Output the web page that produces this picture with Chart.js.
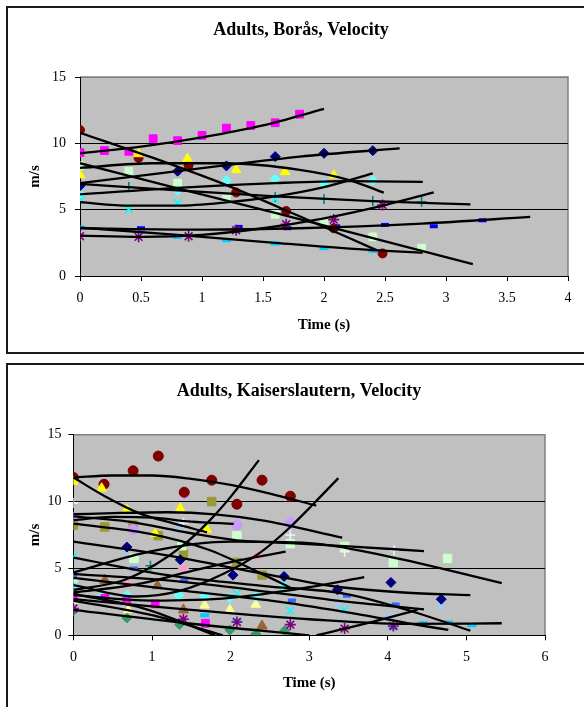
<!DOCTYPE html>
<html>
<head>
<meta charset="utf-8">
<script src="https://cdn.jsdelivr.net/npm/chart.js@4.4.1/dist/chart.umd.min.js"></script>
<style>
  body { margin: 0; background: #fff; overflow: hidden; width: 584px; height: 707px; position: relative; }
  .frame { position: absolute; box-sizing: border-box; border: 2px solid #1a1a1a; }
  canvas { position: absolute; left: 0; }
</style>
</head>
<body>
<div class="frame" style="left:6px; top:6px; width:640px; height:348px;"></div>
<div class="frame" style="left:6px; top:363px; width:640px; height:400px;"></div>
<canvas id="borasChart" width="602" height="353" style="top:0"></canvas>
<canvas id="kaisChart" width="598" height="343" style="top:364px"></canvas>
<script>
// ---- Borås: measured points [time s, velocity m/s] ----
const borasNavy = [[0, 6.8], [0.8, 7.9], [1.2, 8.3], [1.6, 9.0], [2.0, 9.25], [2.4, 9.45]];
const borasMagenta = [[0, 9.3], [0.2, 9.45], [0.4, 9.4], [0.6, 10.35], [0.8, 10.2], [1.0, 10.6], [1.2, 11.15], [1.4, 11.35], [1.6, 11.55], [1.8, 12.2]];
const borasYellow = [[0, 7.6], [0.48, 9.2], [0.88, 8.85], [1.28, 8.0], [1.68, 7.85], [2.08, 7.6]];
const borasCyanX = [[0, 5.7], [0.4, 5.05], [0.8, 5.5], [1.6, 5.8]];
const borasPurple = [[0, 3.0], [0.48, 2.95], [0.89, 3.0], [1.28, 3.45], [1.69, 3.9], [2.08, 4.25], [2.48, 5.35]];
const borasDarkRed = [[0, 11.0], [0.48, 8.9], [0.89, 8.35], [1.28, 6.3], [1.69, 4.9], [2.08, 3.6], [2.48, 1.7]];
const borasTeal = [[0.4, 6.7], [1.6, 5.95], [2.0, 5.8], [2.4, 5.65], [2.8, 5.6]];
const borasBlue = [[0.5, 3.6], [1.3, 3.7], [1.7, 3.6], [2.1, 3.75], [2.5, 3.85], [2.9, 3.75], [3.3, 4.2]];
const borasSky = [[0, 3.65], [0.8, 2.95], [1.2, 2.7], [1.6, 2.45], [2.0, 2.1], [2.4, 1.9]];
const borasTurquoise = [[0, 6.15], [0.8, 6.45], [1.2, 7.2], [1.6, 7.3], [2.0, 6.95], [2.4, 7.2]];
const borasLightGreen = [[0, 8.3], [0.4, 7.9], [0.8, 7.0], [1.2, 5.8], [1.6, 4.65], [2.0, 4.1], [2.4, 2.95], [2.8, 2.1]];

// ---- Borås: trend lines ----
const borasFitMagenta = [[0, 9.25], [0.5, 9.75], [1.0, 10.45], [1.5, 11.35], [2.0, 12.6]];
const borasFitDarkRed = [[0, 10.8], [0.6, 8.9], [1.2, 6.85], [1.8, 4.5], [2.43, 1.95]];
const borasFitNavy = [[0, 7.0], [0.8, 7.9], [1.2, 8.35], [1.8, 9.0], [2.62, 9.62]];
const borasFitYellow = [[0, 8.15], [0.6, 8.5], [1.2, 8.5], [1.8, 8.0], [2.2, 7.25], [2.49, 6.28]];
const borasFitLightGreen = [[0, 8.5], [0.8, 6.6], [1.6, 4.75], [2.4, 2.85], [3.22, 0.9]];
const borasFitTeal = [[0, 6.95], [0.8, 6.45], [1.6, 6.0], [2.4, 5.65], [3.2, 5.4]];
const borasFitTurquoise = [[0, 6.15], [0.8, 6.65], [1.6, 7.0], [2.2, 7.15], [2.81, 7.1]];
const borasFitCyanX = [[0, 5.57], [0.4, 5.3], [0.8, 5.3], [1.2, 5.55], [1.6, 6.0], [2.0, 6.7], [2.4, 7.74]];
const borasFitSky = [[0, 3.65], [0.8, 3.1], [1.6, 2.5], [2.4, 1.95], [2.81, 1.76]];
const borasFitBlue = [[0, 3.6], [1.0, 3.5], [1.8, 3.6], [2.8, 3.95], [3.69, 4.45]];
const borasFitPurple = [[0, 3.05], [0.5, 2.95], [1.0, 3.1], [1.5, 3.6], [2.0, 4.35], [2.5, 5.35], [2.9, 6.3]];

// ---- Kaiserslautern: measured points ----
const kaisDarkRed = [[0, 11.8], [0.39, 11.3], [0.76, 12.3], [1.08, 13.4], [1.41, 10.7], [1.76, 11.6], [2.08, 9.8], [2.4, 11.6], [2.76, 10.4]];
const kaisYellow = [[0, 11.5], [0.36, 11.0], [0.68, 9.4], [1.04, 7.6], [1.36, 9.5], [1.7, 7.9]];
const kaisOlive = [[0, 8.25], [0.4, 8.1], [0.76, 8.25], [1.08, 7.45], [1.4, 6.1], [1.76, 10.0], [2.08, 5.45], [2.4, 4.5]];
const kaisLavender = [[0, 8.8], [0.76, 7.9], [1.41, 10.6], [2.08, 8.25], [2.76, 8.4]];
const kaisWhitePlus = [[0, 9.9], [1.4, 8.4], [2.76, 7.5], [3.45, 6.25], [4.08, 6.35]];
const kaisLightGreen = [[0, 4.3], [0.77, 5.75], [1.38, 6.7], [2.08, 7.45], [2.76, 6.85], [3.45, 6.65], [4.07, 5.45], [4.76, 5.75]];
const kaisNavy = [[0.68, 6.6], [1.36, 5.65], [2.03, 4.5], [2.68, 4.4], [3.36, 3.4], [4.04, 3.95], [4.68, 2.7]];
const kaisRoyal = [[0, 4.5], [0.77, 5.0], [1.41, 4.1], [2.78, 2.6], [3.48, 2.95], [4.1, 2.3]];
const kaisCyanX = [[0, 5.9], [2.08, 3.1], [2.76, 1.85], [3.45, 1.9]];
const kaisPaleX = [[0.67, 6.25], [1.33, 8.0], [3.36, 2.2], [4.0, 1.35], [4.68, 2.2]];
const kaisMagenta = [[0, 2.8], [0.4, 2.75], [0.68, 2.6], [1.04, 2.35], [1.68, 0.9]];
const kaisBrown = [[0, 3.3], [0.4, 4.1], [1.07, 3.7], [1.4, 1.9], [2.4, 0.7]];
const kaisTurquoise = [[0, 3.7], [0.35, 2.8], [0.68, 3.0], [1.34, 3.0], [1.67, 2.9], [1.99, 2.8], [2.32, 2.9], [2.67, 3.7]];
const kaisLightYellow = [[0, 2.6], [0.7, 1.9], [1.67, 2.25], [1.99, 1.9], [2.32, 2.3]];
const kaisSky = [[1.67, 1.5], [2.08, 1.1], [4.07, 0.55], [4.45, 0.9], [4.77, 0.95], [5.07, 0.75]];
const kaisPurple = [[0, 2.0], [1.4, 1.2], [2.08, 1.0], [2.76, 0.8], [3.45, 0.5], [4.07, 0.7]];
const kaisRose = [[0, 3.0], [0.68, 3.9], [1.4, 5.0], [2.35, 5.9]];
const kaisGreen = [[0, 1.85], [0.68, 1.3], [1.35, 0.8], [1.99, 0.4], [2.32, 0.1], [2.69, 0.35]];
const kaisTeal = [[0.98, 5.2]];

// ---- Kaiserslautern: trend lines ----
const kaisFitDarkRed = [[0, 11.8], [0.5, 11.95], [1.0, 11.95], [1.5, 11.7], [2.0, 11.25], [2.5, 10.6], [3.09, 9.7]];
const kaisFitYellow = [[0, 11.8], [0.4, 10.4], [0.85, 9.1], [1.25, 8.4], [1.7, 7.7]];
const kaisFitWhite = [[0, 8.9], [0.7, 8.5], [1.48, 7.65], [2.08, 7.1], [2.76, 6.9], [3.5, 6.65], [4.46, 6.3]];
const kaisFitLavender = [[0, 9.05], [0.6, 9.15], [1.2, 9.2], [1.8, 9.05], [2.4, 8.6], [3.42, 7.3]];
const kaisFitOlive = [[0, 8.6], [0.5, 8.85], [1.0, 8.8], [1.5, 8.5], [2.04, 8.33]];
const kaisFitMixed = [[0, 8.35], [0.96, 7.6], [1.72, 6.4], [2.38, 4.65], [2.76, 3.56]];
const kaisFitLightGreen = [[0, 4.7], [1.0, 6.3], [2.0, 7.0], [3.0, 6.9], [4.0, 5.9], [5.45, 3.9]];
const kaisFitNavy = [[0, 7.0], [1.06, 6.1], [2.38, 4.65], [3.33, 3.65], [4.2, 3.2], [5.05, 3.0]];
const kaisFitCyanX = [[0, 5.8], [1.2, 4.5], [2.4, 3.7], [3.46, 3.1], [4.3, 1.8], [5.05, 0.35]];
const kaisFitRoyal = [[0, 4.6], [1.2, 4.1], [2.63, 3.14], [3.5, 2.5], [4.46, 1.94]];
const kaisFitPale = [[0, 4.3], [1.3, 3.4], [2.63, 2.5], [3.6, 1.6], [4.26, 0.9], [4.77, 0.4]];
const kaisFitSteepA = [[0, 3.4], [0.63, 4.1], [1.06, 5.35], [1.39, 6.7], [1.72, 8.5], [2.0, 10.35], [2.36, 13.1]];
const kaisFitSteepB = [[0, 3.75], [0.8, 2.9], [1.34, 3.3], [1.91, 4.6], [2.38, 6.2], [2.76, 8.1], [3.05, 9.8], [3.37, 11.75]];
const kaisFitRose = [[0, 3.2], [0.8, 3.8], [1.5, 4.8], [2.1, 5.6], [2.7, 6.25]];
const kaisFitTurquoise = [[0, 3.0], [1.0, 2.6], [2.0, 2.8], [3.0, 3.6], [3.7, 4.35]];
const kaisFitSky = [[0, 2.7], [1.5, 1.9], [3.0, 1.2], [4.2, 0.85], [5.45, 0.9]];
const kaisFitRising = [[3.09, 0], [3.7, 0.85], [4.38, 1.9]];
const kaisFitMagenta = [[0, 3.1], [0.9, 2.0], [1.8, 0]];
const kaisFitBrown = [[0, 2.6], [1.0, 1.5], [1.9, 0]];
const kaisFitGreen = [[0, 1.9], [1.44, 0.9], [3.0, 0]];

const serif = '"Liberation Serif", "Times New Roman", serif';

// Scatter markers, drawn under the trend lines
function markers(points, color, style, radius) {
    const stroked = ['cross', 'crossRot', 'star'].includes(style);
    return {
        data: points.map(([x, y]) => ({ x, y })),
        showLine: false,
        pointStyle: style,
        pointRadius: radius,
        pointBackgroundColor: color,
        pointBorderColor: color,
        pointBorderWidth: style === 'line' ? 4 : (stroked ? 1.6 : 1),
        order: 2,
    };
}

// Black trend curve
function trend(points) {
    return {
        data: points.map(([x, y]) => ({ x, y })),
        showLine: true,
        borderColor: '#000',
        borderWidth: 2.3,
        pointRadius: 0,
        cubicInterpolationMode: 'monotone',
        fill: false,
        order: 1,
    };
}

// Gray plot area with gray top/right frame
const plotArea = {
    id: 'plotArea',
    beforeDraw(chart) {
        const { ctx, chartArea: a } = chart;
        ctx.save();
        ctx.fillStyle = '#c0c0c0';
        ctx.fillRect(a.left, a.top, a.width, a.height);
        ctx.strokeStyle = '#808080';
        ctx.lineWidth = 1.5;
        ctx.beginPath();
        ctx.moveTo(a.left, a.top);
        ctx.lineTo(a.right, a.top);
        ctx.lineTo(a.right, a.bottom);
        ctx.stroke();
        ctx.restore();
    },
};

function buildChart(id, opts) {
    const ctx = document.getElementById(id).getContext('2d');
    new Chart(ctx, {
        type: 'scatter',
        data: { datasets: opts.datasets },
        options: {
            responsive: false,
            animation: false,
            events: [],
            layout: { padding: 0 },
            plugins: {
                legend: { display: false },
                tooltip: { enabled: false },
                title: {
                    display: true,
                    text: opts.title,
                    color: '#000',
                    font: { family: serif, size: 18, weight: 'bold' },
                    padding: { top: opts.titleTop, bottom: opts.titleBottom },
                },
            },
            scales: {
                x: {
                    type: 'linear',
                    position: 'bottom',
                    min: 0,
                    max: opts.xMax,
                    ticks: {
                        stepSize: opts.xStep,
                        color: '#000',
                        font: { family: serif, size: 14 },
                        padding: 9,
                        maxRotation: 0,
                        autoSkip: false,
                        callback: (v) => String(Number(v)),
                    },
                    grid: { drawOnChartArea: false, drawTicks: true, tickLength: 5, color: '#000' },
                    border: { color: '#000', width: 1 },
                    title: {
                        display: true,
                        text: 'Time (s)',
                        color: '#000',
                        font: { family: serif, size: 15, weight: 'bold' },
                        padding: { top: 0, bottom: opts.xTitleBottom },
                    },
                    afterFit(scale) { scale.height = opts.xHeight; },
                },
                y: {
                    type: 'linear',
                    position: 'left',
                    min: 0,
                    max: 15,
                    ticks: {
                        stepSize: 5,
                        color: '#000',
                        font: { family: serif, size: 14 },
                        padding: opts.yPad,
                    },
                    grid: {
                        color: (c) => (c.tick && c.tick.value === 15 ? '#808080' : '#000'),
                        tickColor: '#000',
                        tickLength: 5,
                        lineWidth: 1,
                    },
                    border: { color: '#000', width: 1 },
                    title: {
                        display: true,
                        text: 'm/s',
                        color: '#000',
                        font: { family: serif, size: 15, weight: 'bold' },
                        padding: { top: 26, bottom: 0 },
                    },
                    afterFit(scale) { scale.width = opts.yWidth; },
                },
                yRight: {
                    type: 'linear',
                    position: 'right',
                    display: true,
                    grid: { display: false, drawTicks: false },
                    border: { display: false },
                    ticks: { display: false },
                    afterFit(scale) { scale.width = opts.rightWidth; },
                },
            },
        },
        plugins: [plotArea],
    });
}

buildChart('borasChart', {
    title: 'Adults, Borås, Velocity',
    titleTop: 19.2,
    titleBottom: 36.2,
    xMax: 4,
    xStep: 0.5,
    xHeight: 77,
    xTitleBottom: 19,
    yWidth: 80,
    yPad: 9,
    rightWidth: 34,
    datasets: [
        trend(borasFitMagenta), trend(borasFitDarkRed), trend(borasFitNavy), trend(borasFitYellow),
        trend(borasFitLightGreen), trend(borasFitTeal), trend(borasFitTurquoise), trend(borasFitCyanX),
        trend(borasFitSky), trend(borasFitBlue), trend(borasFitPurple),
        markers(borasNavy, '#000080', 'rectRot', 5),
        markers(borasMagenta, '#ff00ff', 'rect', 5.5),
        markers(borasYellow, '#ffff00', 'triangle', 5.5),
        markers(borasCyanX, '#00ffff', 'crossRot', 5.5),
        markers(borasPurple, '#800080', 'star', 5.5),
        markers(borasDarkRed, '#800000', 'circle', 4.5),
        markers(borasTeal, '#008080', 'cross', 5),
        markers(borasBlue, '#0000ff', 'line', 4),
        markers(borasSky, '#00ccff', 'line', 4.5),
        markers(borasTurquoise, '#66ffff', 'rectRot', 5),
        markers(borasLightGreen, '#ccffcc', 'rect', 5.5),
    ],
});

buildChart('kaisChart', {
    title: 'Adults, Kaiserslautern, Velocity',
    titleTop: 16.2,
    titleBottom: 32.9,
    xMax: 6,
    xStep: 1,
    xHeight: 71.7,
    xTitleBottom: 15,
    yWidth: 73.4,
    yPad: 7,
    rightWidth: 53,
    datasets: [
        trend(kaisFitDarkRed), trend(kaisFitYellow), trend(kaisFitWhite), trend(kaisFitLavender),
        trend(kaisFitOlive), trend(kaisFitMixed), trend(kaisFitLightGreen), trend(kaisFitNavy),
        trend(kaisFitCyanX), trend(kaisFitRoyal), trend(kaisFitPale), trend(kaisFitSteepA),
        trend(kaisFitSteepB), trend(kaisFitRose), trend(kaisFitTurquoise), trend(kaisFitSky),
        trend(kaisFitRising), trend(kaisFitMagenta), trend(kaisFitBrown), trend(kaisFitGreen),
        markers(kaisNavy, '#000080', 'rectRot', 5),
        markers(kaisMagenta, '#ff00ff', 'rect', 5.5),
        markers(kaisYellow, '#ffff00', 'triangle', 5.5),
        markers(kaisCyanX, '#00ffff', 'crossRot', 5.5),
        markers(kaisPurple, '#800080', 'star', 5.5),
        markers(kaisDarkRed, '#800000', 'circle', 5),
        markers(kaisTeal, '#008080', 'cross', 5),
        markers(kaisRoyal, '#3366ff', 'line', 4),
        markers(kaisSky, '#00ccff', 'line', 4.5),
        markers(kaisTurquoise, '#66ffff', 'rectRot', 5),
        markers(kaisLightGreen, '#ccffcc', 'rect', 6),
        markers(kaisLightYellow, '#ffff99', 'triangle', 5.5),
        markers(kaisPaleX, '#99ccff', 'crossRot', 5.5),
        markers(kaisRose, '#ff99cc', 'star', 5.5),
        markers(kaisLavender, '#cc99ff', 'circle', 5),
        markers(kaisWhitePlus, '#f4f4f4', 'cross', 5),
        markers(kaisGreen, '#339966', 'rectRot', 5),
        markers(kaisOlive, '#999933', 'rect', 6),
        markers(kaisBrown, '#996633', 'triangle', 6),
    ],
});
</script>
</body>
</html>
